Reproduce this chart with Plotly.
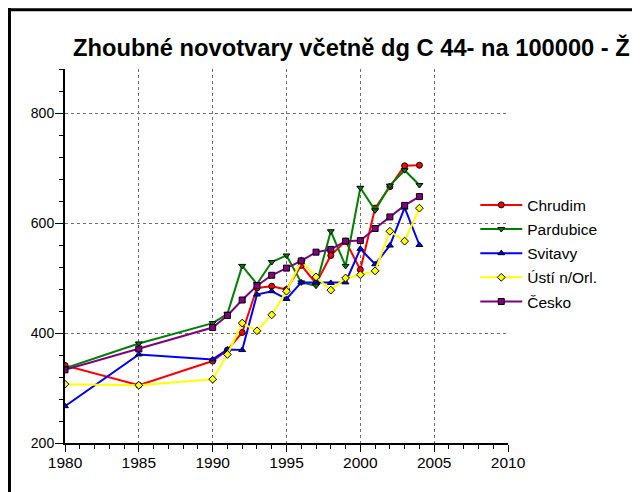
import plotly.graph_objects as go

years = [1980, 1985, 1990, 1991, 1992, 1993, 1994, 1995, 1996, 1997, 1998,
         1999, 2000, 2001, 2002, 2003, 2004]
chrudim = [341, 305, 349, 369, 401, 482, 485, 479, 523, 490, 541, 567, 515, 627, 666, 704, 705]
pardubice = [336, 381, 418, 435, 522, 489, 529, 541, 492, 486, 585, 522, 664, 623, 668, 696, 669]
svitavy = [267, 361, 352, 370, 369, 470, 476, 462, 492, 492, 491, 492, 553, 525, 559, 628, 560]
usti = [307, 305, 316, 361, 418, 404, 433, 476, 531, 502, 478, 500, 506, 513, 585, 567, 627]
cesko = [333, 371, 410, 432, 460, 486, 505, 518, 531, 547, 552, 567, 568, 590, 611, 632, 648]

series = [
    ("Chrudim", chrudim, "#ff0000", "circle"),
    ("Pardubice", pardubice, "#008000", "triangle-down"),
    ("Svitavy", svitavy, "#0000ff", "triangle-up"),
    ("Ústí n/Orl.", usti, "#ffff00", "diamond"),
    ("Česko", cesko, "#800080", "square"),
]

title_text = "Zhoubné novotvary včetně dg C 44- na 100000 - Ž"

fig = go.Figure()
for i, (name, vals, col, sym) in enumerate(series):
    fig.add_trace(go.Scatter(
        x=years, y=vals, name=name, mode="lines+markers",
        legendgroup=f"g{i}",
        line=dict(color=col, width=2),
        marker=dict(symbol=sym, size=6, color=col, line=dict(color="black", width=1)),
    ))

# page body has an 8px margin; figure coordinates = screen - 8
OFF = 8
W, H = 640 - OFF, 492 - OFF
L, R, T, B = 65 - OFF, 507.7 - OFF, 68.7 - OFF, 442.7 - OFF
pw, ph = R - L, B - T


def px2paper_x(sx):
    return (sx - OFF - L) / pw


def px2paper_y(sy):
    return (B - (sy - OFF)) / ph


shapes = [
    dict(type="line", xref="paper", yref="paper",
         x0=px2paper_x(0), x1=px2paper_x(660), y0=px2paper_y(9.5), y1=px2paper_y(9.5),
         line=dict(color="black", width=3)),
    dict(type="line", xref="paper", yref="paper",
         x0=px2paper_x(9.5), x1=px2paper_x(9.5), y0=px2paper_y(0), y1=px2paper_y(510),
         line=dict(color="black", width=3)),
    dict(type="line", xref="paper", yref="paper",
         x0=px2paper_x(635.5), x1=px2paper_x(635.5), y0=px2paper_y(0), y1=px2paper_y(510),
         line=dict(color="black", width=3)),
]

font = "Liberation Sans, Arial, sans-serif"

fig.update_layout(
    width=W, height=H,
    margin=dict(l=L, r=W - R, t=T, b=H - B, pad=0),
    paper_bgcolor="white", plot_bgcolor="white",
    font=dict(family=font, color="black", size=14),
    title=dict(text=title_text, x=(73 - OFF) / W, xanchor="left", xref="container",
               y=1 - (47.5 - OFF) / H, yanchor="middle", yref="container",
               font=dict(family=font, size=23.7, color="black", weight="bold")),
    showlegend=True,
    legend=dict(x=px2paper_x(475), y=px2paper_y(188), xanchor="left", yanchor="top",
                bgcolor="rgba(0,0,0,0)", traceorder="grouped", tracegroupgap=1,
                itemwidth=42, font=dict(size=15.5)),
    shapes=shapes,
)

fig.update_xaxes(range=[1980, 2010], tickvals=[1980, 1985, 1990, 1995, 2000, 2005, 2010],
                 showline=True, linecolor="black", linewidth=2,
                 ticks="outside", ticklen=7, tickcolor="black",
                 minor=dict(dtick=1, ticks="outside", ticklen=4, tickcolor="black", showgrid=False),
                 showgrid=True, gridcolor="#707070", griddash="dot", gridwidth=1,
                 ticklabelstandoff=-3,
                 zeroline=False, tickfont=dict(size=15.5))
fig.update_yaxes(range=[200, 880], tickvals=[200, 400, 600, 800],
                 showline=True, linecolor="black", linewidth=2,
                 ticks="outside", ticklen=8, tickcolor="black",
                 minor=dict(dtick=40, tick0=200, ticks="outside", ticklen=4, tickcolor="black", showgrid=False),
                 showgrid=True, gridcolor="#707070", griddash="dot", gridwidth=1,
                 ticklabelstandoff=-2,
                 zeroline=False, tickfont=dict(size=14))

fig.write_html("out.html")
